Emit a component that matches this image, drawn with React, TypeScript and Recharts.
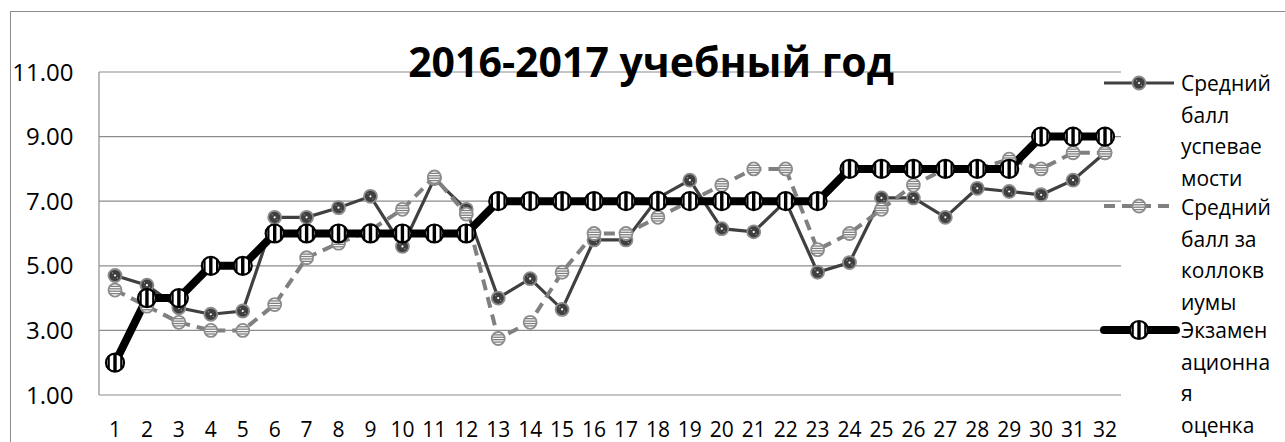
import React from 'react';
import { LineChart, Line, XAxis, YAxis, CartesianGrid } from 'recharts';

const categories = ['1','2','3','4','5','6','7','8','9','10','11','12','13','14','15','16','17','18','19','20','21','22','23','24','25','26','27','28','29','30','31','32'];
const seriesAvg = [4.7,4.4,3.7,3.5,3.6,6.5,6.5,6.8,7.15,5.6,7.7,6.75,4.0,4.6,3.65,5.8,5.8,7.1,7.65,6.15,6.05,7.0,4.8,5.1,7.1,7.1,6.5,7.4,7.3,7.2,7.65,8.5];
const seriesColloq = [4.25,3.75,3.25,3.0,3.0,3.8,5.25,5.7,6.1,6.75,7.75,6.6,2.75,3.25,4.8,6.0,6.0,6.5,7.0,7.5,8.0,8.0,5.5,6.0,6.75,7.5,8.0,8.0,8.3,8.0,8.5,8.5];
const seriesExam = [2,4,4,5,5,6,6,6,6,6,6,6,7,7,7,7,7,7,7,7,7,7,7,8,8,8,8,8,8,9,9,9];
const yTicks = [1,3,5,7,9,11];
const seriesNames = ['Средний балл успеваемости','Средний балл за коллоквиумы','Экзаменационная оценка'];
const legendLines = [
  ['Средний','балл','успевае','мости'],
  ['Средний','балл за','коллокв','иумы'],
  ['Экзамен','ационна','я','оценка'],
];
const title = '2016-2017 учебный год';

const data = categories.map((c, i) => ({
  cat: c,
  avg: seriesAvg[i],
  colloq: seriesColloq[i],
  exam: seriesExam[i],
}));

const FONT = "'Open Sans', sans-serif";

function chordLines(cx: number, cy: number, r: number, offsets: number[], vertical: boolean, color: string, w: number, keyp: string) {
  return offsets.map((o, i) => {
    const h = Math.sqrt(Math.max(0, r * r - o * o));
    return vertical ? (
      <line key={keyp + i} x1={cx + o} x2={cx + o} y1={cy - h} y2={cy + h} stroke={color} strokeWidth={w} />
    ) : (
      <line key={keyp + i} y1={cy + o} y2={cy + o} x1={cx - h} x2={cx + h} stroke={color} strokeWidth={w} />
    );
  });
}

function AvgDot(props: any) {
  const { cx, cy, index } = props;
  if (cx == null || cy == null) return null;
  return (
    <g key={'a' + index}>
      <circle cx={cx} cy={cy} r={6.5} fill="#3f3f3f" stroke="#8c8c8c" strokeWidth={1.8} />
      <circle cx={cx} cy={cy} r={1.1} fill="#ffffff" />
      <circle cx={cx - 2.5} cy={cy - 2.5} r={0.7} fill="#9a9a9a" />
      <circle cx={cx + 2.5} cy={cy + 2.5} r={0.7} fill="#9a9a9a" />
    </g>
  );
}

function ColloqDot(props: any) {
  const { cx, cy, index } = props;
  if (cx == null || cy == null) return null;
  return (
    <g key={'c' + index}>
      <circle cx={cx} cy={cy} r={6.5} fill="#ffffff" stroke="#8c8c8c" strokeWidth={1.8} />
      {chordLines(cx, cy, 6, [-3.6, -1.2, 1.2, 3.6], false, '#7f7f7f', 1.3, 'cl')}
    </g>
  );
}

function ExamDot(props: any) {
  const { cx, cy, index } = props;
  if (cx == null || cy == null) return null;
  return (
    <g key={'e' + index}>
      <circle cx={cx} cy={cy} r={9} fill="#ffffff" stroke="#000000" strokeWidth={2.2} />
      {chordLines(cx, cy, 9, [0], true, '#000000', 3.4, 'ec')}
      {chordLines(cx, cy, 9, [-6.3, 6.3], true, '#000000', 2.2, 'es')}
    </g>
  );
}

function XTick(props: any) {
  const { x, payload } = props;
  return (
    <text x={x} y={436.5} textAnchor="middle" fontFamily={FONT} fontSize={21} fill="#000000">{payload.value}</text>
  );
}

function YTick(props: any) {
  const { y, payload } = props;
  return (
    <text x={73.5} y={y + 8.6} textAnchor="end" fontFamily={FONT} fontSize={24} fill="#000000">{Number(payload.value).toFixed(2)}</text>
  );
}

export default function App() {
  return (
    <div style={{ position: 'absolute', left: 0, top: 0, width: 1285, height: 442, background: '#ffffff', overflow: 'hidden', fontFamily: FONT }}>
      <div style={{ position: 'absolute', left: 10, top: 11, width: 1400, height: 600, borderLeft: '1px solid #8c8c8c', borderTop: '1px solid #8c8c8c' }} />
      <div style={{ position: 'absolute', left: 0, top: 0 }}>
        <LineChart width={1285} height={442} data={data} margin={{ top: 72, right: 164, bottom: 17, left: 0 }}>
          <CartesianGrid vertical={false} stroke="#8c8c8c" strokeWidth={1.2} />
          <XAxis
            dataKey="cat"
            height={30}
            padding={{ left: 16, right: 16 }}
            axisLine={false}
            tickLine={false}
            interval={0}
            tick={XTick}
          />
          <YAxis
            width={99}
            domain={[1, 11]}
            ticks={yTicks}
            type="number"
            allowDataOverflow
            axisLine={{ stroke: '#8c8c8c', strokeWidth: 1.2 }}
            tickLine={false}
            tick={YTick}
          />
          <Line name={seriesNames[0]} dataKey="avg" stroke="#404040" strokeWidth={3.2} dot={AvgDot} activeDot={false} isAnimationActive={false} />
          <Line name={seriesNames[1]} dataKey="colloq" stroke="#808080" strokeWidth={4} strokeDasharray="11 7" dot={ColloqDot} activeDot={false} isAnimationActive={false} />
          <Line name={seriesNames[2]} dataKey="exam" stroke="#000000" strokeWidth={8} dot={ExamDot} activeDot={false} isAnimationActive={false} />
        </LineChart>
      </div>
      <svg width={1285} height={442} style={{ position: 'absolute', left: 0, top: 0, pointerEvents: 'none' }}>
        <text x={651} y={77} textAnchor="middle" fontFamily={FONT} fontWeight={700} fontSize={41} fill="#000000">{title}</text>
        <g>
          <line x1={1104} x2={1174} y1={83} y2={83} stroke="#404040" strokeWidth={3.2} />
          <AvgDot cx={1139} cy={83} index={100} />
          <line x1={1104} x2={1172} y1={206} y2={206} stroke="#808080" strokeWidth={4} strokeDasharray="11 7" />
          <ColloqDot cx={1139} cy={206} index={101} />
          <line x1={1104} x2={1176} y1={330} y2={330} stroke="#000000" strokeWidth={8} strokeLinecap="round" />
          <ExamDot cx={1139} cy={330} index={102} />
          {legendLines.map((lines, k) => (
            <text key={k} fontFamily={FONT} fontSize={21} fill="#000000">
              {lines.map((ln, j) => (
                <tspan key={j} x={1181} y={[91, 215, 338][k] + j * 31.5}>{ln}</tspan>
              ))}
            </text>
          ))}
        </g>
      </svg>
    </div>
  );
}
